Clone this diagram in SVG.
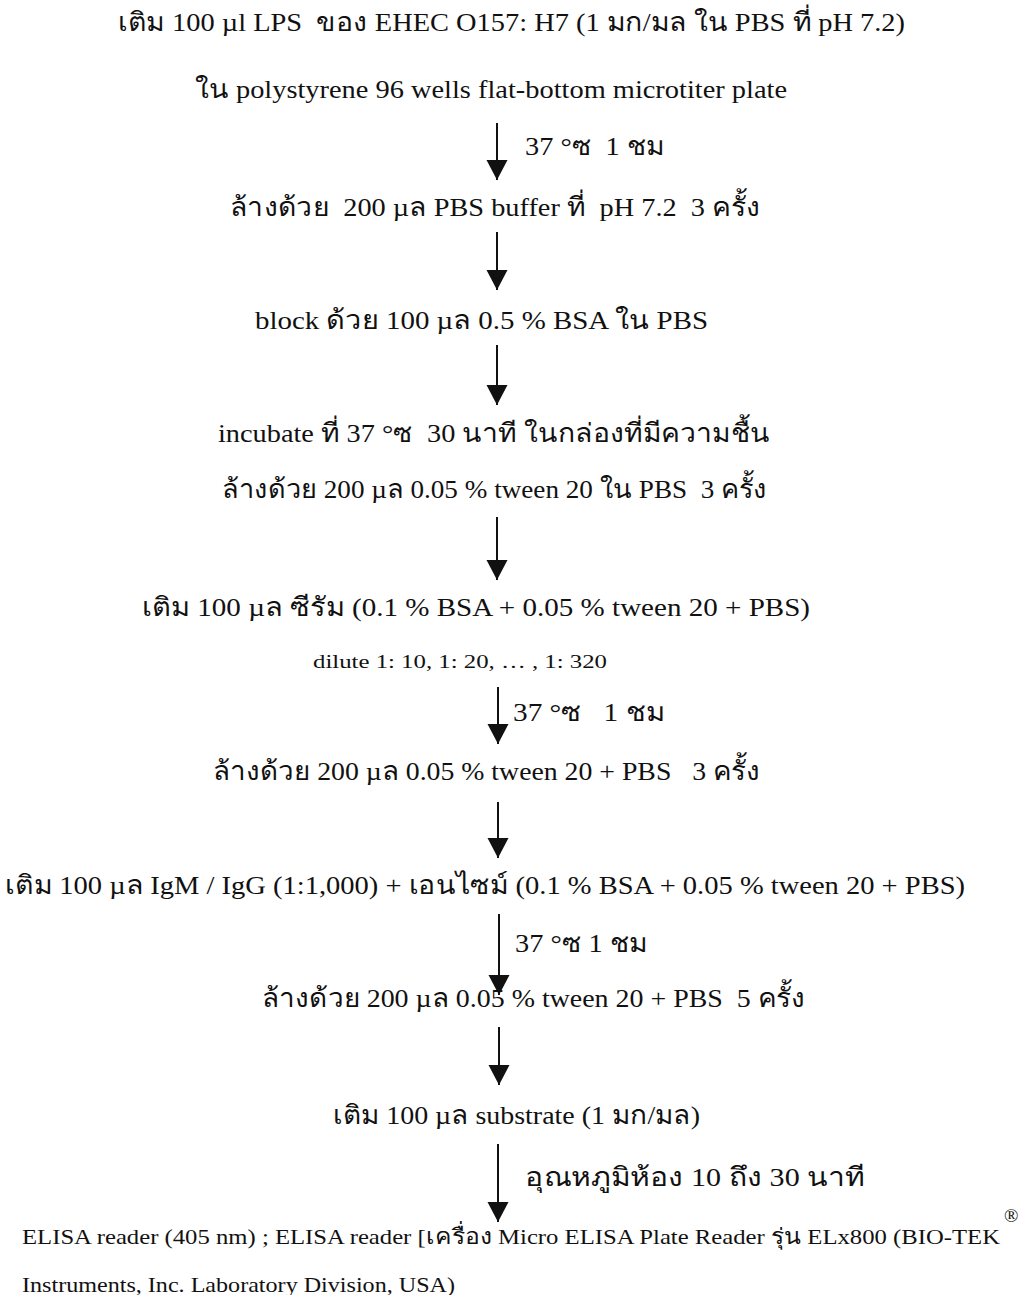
<svg xmlns="http://www.w3.org/2000/svg" width="1034" height="1295" viewBox="0 0 1034 1295">
<style>
.t{font-family:"Liberation Serif","DejaVu Serif",serif;font-size:26px;fill:#111;white-space:pre}
.s{font-family:"Liberation Serif","DejaVu Serif",serif;font-size:19px;fill:#111;white-space:pre}
.c{font-family:"Liberation Serif","DejaVu Serif",serif;font-size:22px;fill:#111;white-space:pre}
.a{stroke:#111;stroke-width:2;fill:none}
</style>
<defs>
<marker id="ah" markerUnits="userSpaceOnUse" markerWidth="21" markerHeight="22" refX="20" refY="10.5" orient="auto" viewBox="0 0 21 21">
<path d="M0,0 L20,10.5 L0,21 z" fill="#111"/>
</marker>
</defs>
<rect width="1034" height="1295" fill="#fff"/>
<g id="connectors">
<line class="a" x1="497" y1="123" x2="497" y2="180" marker-end="url(#ah)"/>
<line class="a" x1="497" y1="232" x2="497" y2="290" marker-end="url(#ah)"/>
<line class="a" x1="497" y1="345" x2="497" y2="405" marker-end="url(#ah)"/>
<line class="a" x1="497" y1="517" x2="497" y2="580" marker-end="url(#ah)"/>
<line class="a" x1="498" y1="687" x2="498" y2="744" marker-end="url(#ah)"/>
<line class="a" x1="498" y1="802" x2="498" y2="858" marker-end="url(#ah)"/>
<line class="a" x1="499" y1="914" x2="499" y2="995" marker-end="url(#ah)"/>
<line class="a" x1="499" y1="1027" x2="499" y2="1085" marker-end="url(#ah)"/>
<line class="a" x1="498" y1="1144" x2="498" y2="1222" marker-end="url(#ah)"/>
<text class="t" x="525" y="155" textLength="140" lengthAdjust="spacingAndGlyphs">37 °ซ  1 ชม</text>
<text class="t" x="513" y="721" textLength="152" lengthAdjust="spacingAndGlyphs">37 °ซ   1 ชม</text>
<text class="t" x="515" y="952" textLength="133" lengthAdjust="spacingAndGlyphs">37 °ซ 1 ชม</text>
<text class="t" x="525" y="1186" textLength="340" lengthAdjust="spacingAndGlyphs">อุณหภูมิห้อง 10 ถึง 30 นาที</text>
</g>
<g id="n1"><text class="t" x="118" y="31" textLength="787" lengthAdjust="spacingAndGlyphs">เติม 100 µl LPS  ของ EHEC O157: H7 (1 มก/มล ใน PBS ที่ pH 7.2)</text>
<text class="t" x="195" y="98" textLength="592" lengthAdjust="spacingAndGlyphs">ใน polystyrene 96 wells flat-bottom microtiter plate</text></g>
<g id="n2"><text class="t" x="230" y="216" textLength="530" lengthAdjust="spacingAndGlyphs">ล้างด้วย  200 µล PBS buffer ที่  pH 7.2  3 ครั้ง</text></g>
<g id="n3"><text class="t" x="255" y="329" textLength="453" lengthAdjust="spacingAndGlyphs">block ด้วย 100 µล 0.5 % BSA ใน PBS</text></g>
<g id="n4"><text class="t" x="218" y="442" textLength="552" lengthAdjust="spacingAndGlyphs">incubate ที่ 37 °ซ  30 นาที ในกล่องที่มีความชื้น</text>
<text class="t" x="222" y="498" textLength="545" lengthAdjust="spacingAndGlyphs">ล้างด้วย 200 µล 0.05 % tween 20 ใน PBS  3 ครั้ง</text></g>
<g id="n5"><text class="t" x="142" y="616" textLength="668" lengthAdjust="spacingAndGlyphs">เติม 100 µล ซีรัม (0.1 % BSA + 0.05 % tween 20 + PBS)</text>
<text class="s" x="313" y="668" textLength="294" lengthAdjust="spacingAndGlyphs">dilute 1: 10, 1: 20, … , 1: 320</text></g>
<g id="n6"><text class="t" x="213" y="780" textLength="547" lengthAdjust="spacingAndGlyphs">ล้างด้วย 200 µล 0.05 % tween 20 + PBS   3 ครั้ง</text></g>
<g id="n7"><text class="t" x="5" y="894" textLength="960" lengthAdjust="spacingAndGlyphs">เติม 100 µล IgM / IgG (1:1,000) + เอนไซม์ (0.1 % BSA + 0.05 % tween 20 + PBS)</text></g>
<g id="n8"><text class="t" x="262" y="1007" textLength="543" lengthAdjust="spacingAndGlyphs">ล้างด้วย 200 µล 0.05 % tween 20 + PBS  5 ครั้ง</text></g>
<g id="n9"><text class="t" x="333" y="1124" textLength="367" lengthAdjust="spacingAndGlyphs">เติม 100 µล substrate (1 มก/มล)</text></g>
<g id="n10"><text class="c" x="22" y="1244" textLength="978" lengthAdjust="spacingAndGlyphs">ELISA reader (405 nm) ; ELISA reader [เครื่อง Micro ELISA Plate Reader รุ่น ELx800 (BIO-TEK</text>
<text class="s" x="1004" y="1222">®</text>
<text class="c" x="22" y="1292" textLength="433" lengthAdjust="spacingAndGlyphs">Instruments, Inc. Laboratory Division, USA)</text></g>
</svg>
